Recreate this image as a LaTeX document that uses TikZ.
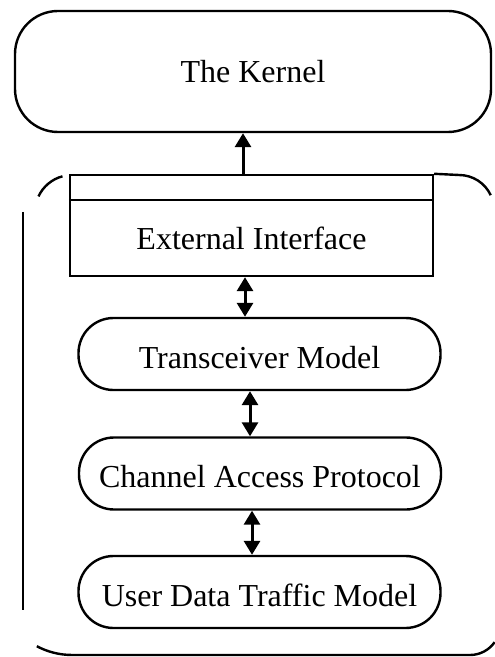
\documentclass[tikz,border=0pt]{standalone}
\usepackage{fontspec}
\setmainfont{Liberation Serif}
\usetikzlibrary{arrows.meta,calc}

\begin{document}
\begin{tikzpicture}[x=0.5pt, y=0.5pt, line width=1.2pt,
    font=\fontsize{16}{19}\selectfont,
    pill/.style={rectangle, draw, rounded corners=17.5pt, minimum width=181pt, minimum height=36pt, text height=14pt, text depth=0pt},
    link/.style={-{Triangle[width=8pt,length=7pt]}, line width=1.5pt},
    dbllink/.style={{Triangle[width=8pt,length=7pt]}-{Triangle[width=8pt,length=7pt]}, line width=1.5pt}
    ]
    \useasboundingbox (0,0) rectangle (494,-657);
    \node[rectangle, draw, rounded corners=21.5pt, minimum width=238pt, minimum height=60.5pt] (kernel) at (253,-71.5) {The Kernel};
    \node[rectangle, draw, minimum width=181.5pt, minimum height=50.5pt] (extif) at (251.5,-225.5) {};
    \node (extiflabel) at ([yshift=-6.5pt]extif.center) {External Interface};
    \draw ([yshift=-13pt]extif.north west) -- ([yshift=-13pt]extif.north east);
    \node[pill] (trx) at (259.5,-354) {Transceiver Model};
    \node[pill] (cap) at (260,-473.5) {Channel Access Protocol};
    \node[pill] (udt) at (259.5,-592) {User Data Traffic Model};

    \draw[link] ($(extif.north)+(-4.25pt,0)$) -- ($(extif.north |- kernel.south)+(-4.25pt,0)$);
    \draw[dbllink] ($(extif.south)+(-3.25pt,0)$) -- ($(extif.south |- trx.north)+(-3.25pt,0)$);
    \draw[dbllink] ($(trx.south)+(-4.75pt,0)$) -- ($(trx.south |- cap.north)+(-4.75pt,0)$);
    \draw[dbllink] ($(cap.south)+(-4pt,0)$) -- ($(cap.south |- udt.north)+(-4pt,0)$);

    \draw (38.5,-196.4) arc[start angle=155, end angle=105, radius=37];
    \draw (extif.north east) -- (459,-175) arc[start angle=90, end angle=25, radius=35];
    \draw (36.8,-646.2) arc[start angle=242, end angle=270, radius=75] -- (470,-655) arc[start angle=270, end angle=325, radius=30];
    \draw (23,-212) -- (23,-610);
\end{tikzpicture}
\end{document}
